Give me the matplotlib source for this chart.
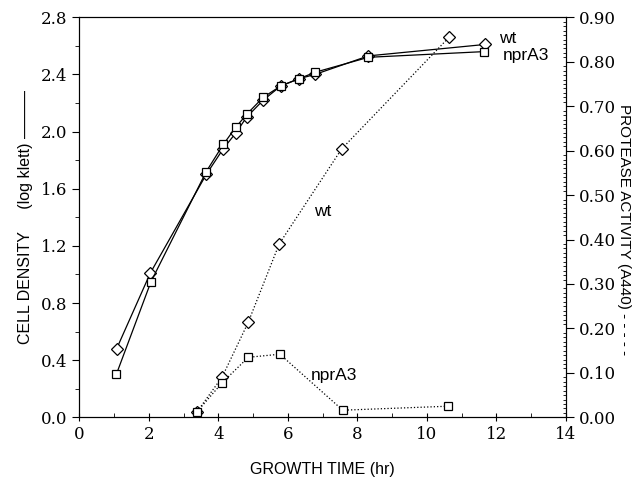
import matplotlib
matplotlib.use("Agg")
import matplotlib.pyplot as plt
from matplotlib.ticker import MultipleLocator, FormatStrFormatter

# growth curves (left axis, log klett)
t_wt_growth = [1.07, 2.04, 3.65, 4.14, 4.50, 4.81, 5.29, 5.80, 6.32, 6.78, 8.32, 11.68]
wt_growth = [0.48, 1.01, 1.70, 1.88, 1.99, 2.10, 2.22, 2.32, 2.37, 2.40, 2.53, 2.61]
t_npr_growth = [1.06, 2.06, 3.65, 4.14, 4.50, 4.81, 5.29, 5.80, 6.32, 6.78, 8.32, 11.66]
npr_growth = [0.30, 0.95, 1.72, 1.91, 2.03, 2.12, 2.24, 2.32, 2.37, 2.415, 2.52, 2.56]

# protease activity (right axis, A440)
t_wt_prot = [3.39, 4.11, 4.86, 5.75, 7.55, 10.64]
wt_prot = [0.013, 0.091, 0.214, 0.39, 0.604, 0.855]
t_npr_prot = [3.39, 4.11, 4.86, 5.77, 7.58, 10.62]
npr_prot = [0.013, 0.078, 0.135, 0.142, 0.016, 0.025]

serif = "DejaVu Serif"
sans = "Liberation Sans"

fig = plt.figure(figsize=(6.42, 4.82), dpi=100)
ax = fig.add_axes([0.1238, 0.1342, 0.8812 - 0.1238, 0.9641 - 0.1342])
ax2 = ax.twinx()

dia = dict(marker="D", ms=6, mfc="white", mec="black", mew=0.9)
sq = dict(marker="s", ms=6, mfc="white", mec="black", mew=0.9)
ax.plot(t_wt_growth, wt_growth, "-", color="black", lw=0.9, **dia)
ax.plot(t_npr_growth, npr_growth, "-", color="black", lw=0.9, **sq)
ax2.plot(t_wt_prot, wt_prot, ":", color="black", lw=0.9, **dia)
ax2.plot(t_npr_prot, npr_prot, ":", color="black", lw=0.9, **sq)

ax.set_xlim(0, 14)
ax.set_ylim(0, 2.8)
ax2.set_ylim(0, 0.9)

ax.xaxis.set_major_locator(MultipleLocator(2))
ax.xaxis.set_minor_locator(MultipleLocator(1))
ax.yaxis.set_major_locator(MultipleLocator(0.4))
ax.yaxis.set_minor_locator(MultipleLocator(0.2))
ax.yaxis.set_major_formatter(FormatStrFormatter("%.1f"))
ax2.yaxis.set_major_locator(MultipleLocator(0.1))
ax2.yaxis.set_minor_locator(MultipleLocator(0.01))
ax2.yaxis.set_major_formatter(FormatStrFormatter("%.2f"))

ax.tick_params(axis="x", which="major", direction="inout", length=6, labelsize=12, pad=3)
ax.tick_params(axis="x", which="minor", direction="in", length=3)
ax.tick_params(axis="y", which="major", direction="out", length=5, labelsize=12)
ax.tick_params(axis="y", which="minor", direction="out", length=3)
ax2.tick_params(axis="y", which="major", direction="out", length=6, labelsize=12)
ax2.tick_params(axis="y", which="minor", direction="in", length=2, width=0.6)
for lab in ax.get_xticklabels() + ax.get_yticklabels() + ax2.get_yticklabels():
    lab.set_fontfamily(serif)

ax.set_xlabel("GROWTH TIME (hr)", fontfamily=sans, fontsize=11.5, labelpad=14)
ax.set_ylabel("CELL DENSITY     (log klett) \u2014\u2014\u2014", fontfamily=sans,
              fontsize=11.5, labelpad=6)
ax2.set_ylabel("PROTEASE ACTIVITY (A440) - - - - -", fontfamily=sans, fontsize=11,
               rotation=-90, labelpad=16)
ax2.yaxis.set_label_coords(1.135, 0.47)

ax.text(12.08, 2.655, "wt", fontfamily=sans, fontsize=12.5, va="center")
ax.text(12.19, 2.536, "nprA3", fontfamily=sans, fontsize=12.5, va="center")
ax2.text(6.75, 0.463, "wt", fontfamily=sans, fontsize=12.5, va="center")
ax2.text(6.66, 0.095, "nprA3", fontfamily=sans, fontsize=12.5, va="center")

fig.savefig("out.png", dpi=100)
